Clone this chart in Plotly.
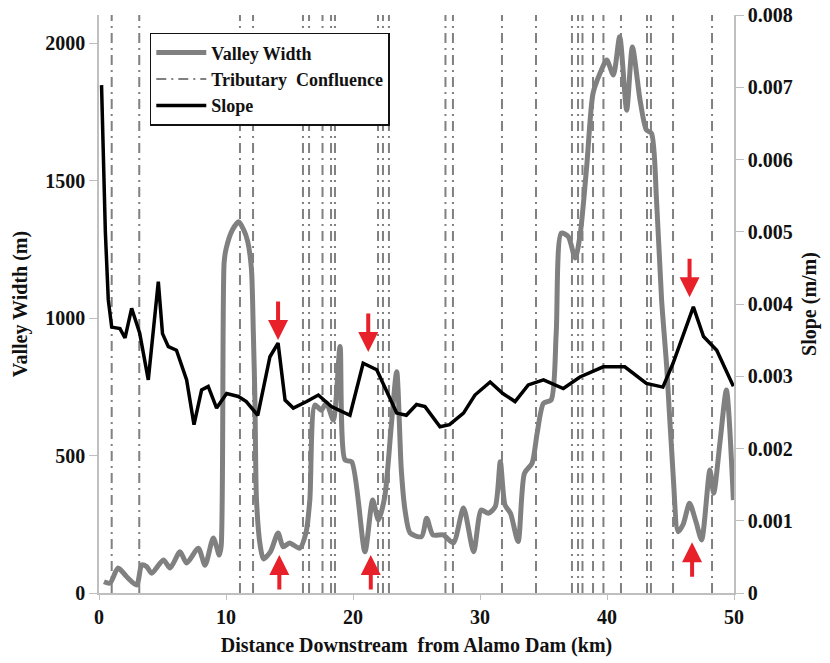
import plotly.graph_objects as go

# ---------------- data ----------------
vw_km = [0.39, 0.87, 1.5, 2.18, 2.97, 3.36, 3.75, 4.15, 5.07, 5.6, 6.38, 6.9, 7.82, 8.35, 9.0, 9.47,
         9.62, 9.85, 10.0, 10.5, 11.0, 11.4, 11.7, 12.0, 12.15, 12.28, 12.4, 12.7, 12.95, 13.5, 14.1,
         14.5, 15.0, 15.8, 16.3, 16.6, 17.0, 17.5, 17.9, 18.45, 18.98, 19.37, 19.9, 20.94, 21.55,
         22.0, 22.5, 23.0, 23.44, 23.8, 24.1, 24.5, 25.4, 25.8, 26.3, 27.1, 27.9, 28.7, 29.5, 30.1,
         30.65, 31.2, 31.6, 31.97, 32.4, 33.0, 33.5, 34.1, 34.5, 35.0, 35.6, 36.0, 36.4, 36.95, 37.5,
         37.9, 38.4, 38.9, 39.45, 39.98, 40.5, 41.0, 41.55, 42.0, 42.6, 43.1, 43.5, 43.9, 44.3, 44.7,
         45.2, 45.6, 46.0, 46.5, 47.0, 47.45, 48.1, 48.4, 48.9, 49.4, 49.95]
vw_m = [41, 36, 91, 59, 29, 102, 96, 72, 120, 91, 150, 109, 163, 101, 200, 138,
        170, 1200, 1250, 1320, 1350, 1320, 1280, 1180, 950, 700, 340, 170, 124, 150, 218,
        168, 182, 163, 220, 338, 684, 665, 691, 629, 896, 484, 477, 150, 338,
        265, 350, 600, 805, 450, 300, 218, 205, 272, 211, 211, 182, 309, 150, 302,
        290, 314, 477, 320, 290, 187, 435, 472, 581, 690, 702, 945, 1309, 1296, 1218,
        1309, 1550, 1817, 1890, 1938, 1884, 2023, 1756, 1986, 1793, 1684, 1672, 1429, 1065, 823,
        435, 223, 250, 326, 260, 193, 447, 363, 550, 738, 338]

slope_km = [0.2, 0.5, 0.73, 1.0, 1.65, 2.05, 2.57, 3.2, 3.88, 4.67, 5.0, 5.46, 6.1, 6.9, 7.48, 8.08,
            8.6, 9.26, 10.05, 10.97, 11.6, 12.5, 13.46, 14.1, 14.65, 15.3, 16.35, 17.27, 18.3, 19.76,
            20.8, 21.87, 23.44, 24.2, 25.0, 25.67, 26.85, 27.6, 28.7, 29.6, 30.8, 31.8, 32.76, 33.8,
            35.0, 36.56, 37.87, 39.7, 41.4, 43.1, 44.4, 45.2, 46.8, 47.6, 48.64, 49.95]
slope_mm = [0.00703, 0.0050, 0.00406, 0.00368, 0.00366, 0.00353, 0.00394, 0.0036, 0.00295, 0.00431,
            0.00359, 0.00341, 0.00336, 0.00295, 0.00233, 0.00281, 0.00286, 0.00256, 0.00276, 0.00272,
            0.00265, 0.00246, 0.00327, 0.00346, 0.00267, 0.00256, 0.00265, 0.00274, 0.00258, 0.00246,
            0.00318, 0.00309, 0.00249, 0.00246, 0.00261, 0.00258, 0.0023, 0.00233, 0.00249, 0.00274,
            0.00292, 0.00276, 0.00265, 0.00288, 0.00295, 0.00283, 0.00299, 0.00313, 0.00313, 0.0029,
            0.00285, 0.00318, 0.00396, 0.00355, 0.00336, 0.00286]

confluence_km = [1.0, 3.17, 11.1, 12.13, 16.06, 16.54, 17.6, 18.27, 18.58, 21.97, 22.36, 22.83,
                 27.28, 27.87, 31.73, 34.41, 37.24, 37.72, 38.07, 38.9, 39.72, 41.1, 43.15, 43.46,
                 45.2, 48.27]

arrow_down_km = [14.1, 21.2, 46.5]
arrow_down_tip = [920, 876, 1076]
arrow_up_km = [14.2, 21.4, 46.7]
arrow_up_tip = [138, 138, 185]

x_ticks = [0, 10, 20, 30, 40, 50]
y_ticks = [0, 500, 1000, 1500, 2000]
y2_ticks = [0, 0.001, 0.002, 0.003, 0.004, 0.005, 0.006, 0.007, 0.008]
y2_ticktext = ["0", "0.001", "0.002", "0.003", "0.004", "0.005", "0.006", "0.007", "0.008"]

Y_MAX = 2102
FONT = "Liberation Serif"

# ---------------- figure ----------------
fig = go.Figure()

cx, cy = [], []
for k in confluence_km:
    cx += [k, k, None]
    cy += [0, Y_MAX, None]

fig.add_trace(go.Scatter(x=cx, y=cy, mode="lines", name="Tributary  Confluence",
                         line=dict(color="#808080", width=2, dash="10px,5px,2px,5px"),
                         legendrank=2, hoverinfo="skip"))
fig.add_trace(go.Scatter(x=vw_km, y=vw_m, mode="lines", name="Valley Width",
                         line=dict(color="#808080", width=5, shape="spline", smoothing=0.7),
                         legendrank=1))
fig.add_trace(go.Scatter(x=slope_km, y=slope_mm, mode="lines", name="Slope", yaxis="y2",
                         line=dict(color="#000000", width=3.5), legendrank=3))

for k, t in zip(arrow_down_km, arrow_down_tip):
    fig.add_annotation(x=k, y=t, xref="x", yref="y", ax=0, ay=-40, text="", showarrow=True,
                       arrowhead=2, arrowsize=1.0, arrowwidth=4, arrowcolor="#e8202a")
for k, t in zip(arrow_up_km, arrow_up_tip):
    fig.add_annotation(x=k, y=t, xref="x", yref="y", ax=0, ay=36, text="", showarrow=True,
                       arrowhead=2, arrowsize=1.0, arrowwidth=4, arrowcolor="#e8202a")

axis_common = dict(showgrid=False, zeroline=False, showline=True, linecolor="#bfbfbf",
                   linewidth=1.5, ticks="outside", tickcolor="#bfbfbf",
                   tickfont=dict(family=FONT, size=20, color="#111111", weight="bold"))

fig.update_layout(
    width=830, height=663,
    margin=dict(l=99, r=96, t=15, b=70),
    paper_bgcolor="white", plot_bgcolor="white",
    font=dict(family=FONT, size=20, color="#111111", weight="bold"),
    showlegend=True,
    legend=dict(x=0.08, y=0.969, xanchor="left", yanchor="top",
                bgcolor="white", bordercolor="#111111", borderwidth=1.5,
                font=dict(family=FONT, size=18, color="#111111", weight="bold"),
                tracegroupgap=0, itemwidth=50),
    xaxis=dict(range=[0, 50], tickvals=x_ticks, ticklen=5,
               title=dict(text="Distance Downstream  from Alamo Dam (km)", standoff=11,
                          font=dict(family=FONT, size=20, color="#111111", weight="bold")),
               automargin=False, **axis_common),
    yaxis=dict(range=[0, Y_MAX], tickvals=y_ticks, ticklen=8,
               title=dict(text="Valley Width (m)", standoff=12,
                          font=dict(family=FONT, size=20, color="#111111", weight="bold")),
               automargin=False, **axis_common),
    yaxis2=dict(range=[0, 0.008], tickvals=y2_ticks, ticktext=y2_ticktext, ticklen=8,
                overlaying="y", side="right",
                title=dict(text="Slope (m/m)", standoff=10,
                           font=dict(family=FONT, size=20, color="#111111", weight="bold")),
                automargin=False, **axis_common),
)

fig.write_html("out.html")
